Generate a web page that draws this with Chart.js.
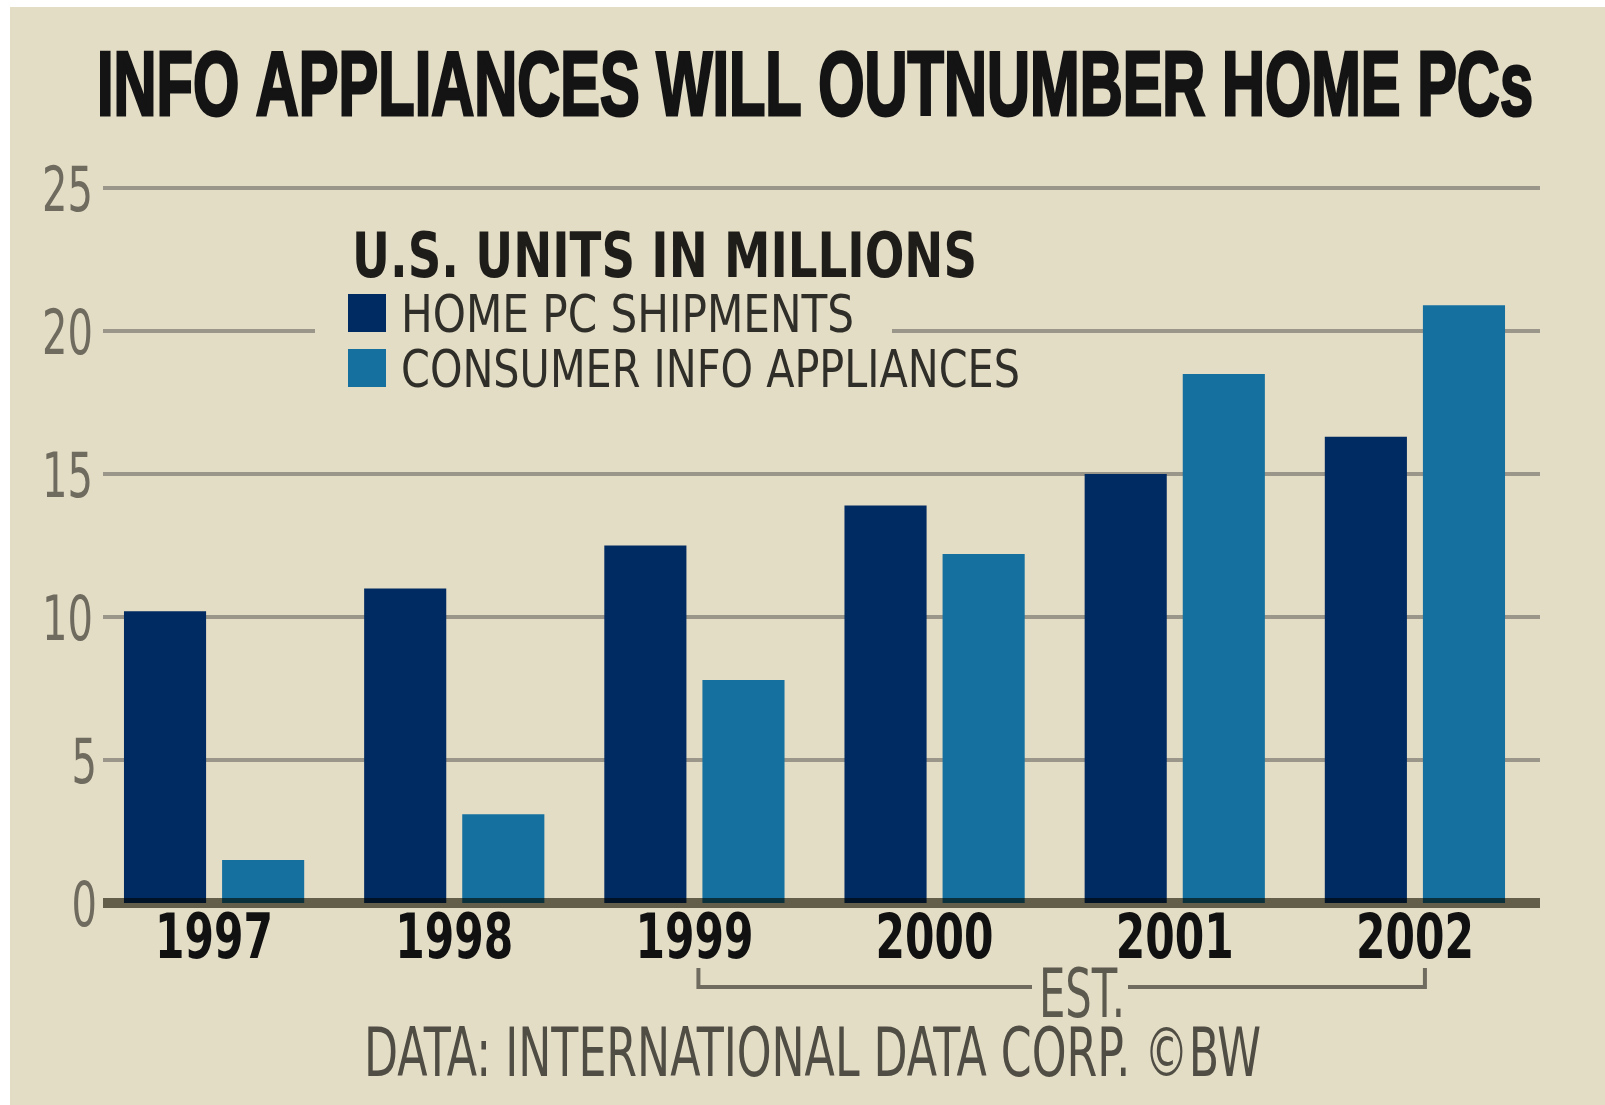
<!DOCTYPE html>
<html>
<head>
<meta charset="utf-8">
<script src="https://cdn.jsdelivr.net/npm/chart.js@4.4.1/dist/chart.umd.min.js"></script>
<style>
  html, body { margin: 0; padding: 0; background: #fff; }
  canvas { display: block; }
</style>
</head>
<body>
<canvas id="barChart" width="1605" height="1105"></canvas>
<script>
// values (millions of units)
const years = ["1997", "1998", "1999", "2000", "2001", "2002"];
const homePC = [10.2, 11.0, 12.5, 13.9, 15.0, 16.3];
const infoAppliances = [1.5, 3.1, 7.8, 12.2, 18.5, 20.9];
const yTicks = [0, 5, 10, 15, 20, 25];

const paper = "#e4ddc6";
const navy = "#002a62";
const teal = "#15709f";
const gridGray = "#9b968a";
const axisGray = "#6f6c5f";
const narrow = '"Liberation Sans Narrow", "DejaVu Sans Condensed", sans-serif';

// draw text squeezed to a given width (the original type is very condensed)
function squeeze(ctx, text, x, y, width, font, color, stroke) {
  ctx.save();
  ctx.font = font;
  const w = ctx.measureText(text).width;
  ctx.translate(x, y);
  ctx.scale(width / w, 1);
  ctx.textAlign = "left";
  ctx.textBaseline = "alphabetic";
  ctx.fillStyle = color;
  ctx.fillText(text, 0, 0);
  if (stroke) {
    ctx.lineWidth = stroke;
    ctx.strokeStyle = color;
    ctx.strokeText(text, 0, 0);
  }
  ctx.restore();
}

const paperPlugin = {
  id: "paper",
  beforeDraw(chart) {
    const ctx = chart.ctx;
    ctx.save();
    ctx.fillStyle = "#fff";
    ctx.fillRect(0, 0, chart.width, chart.height);
    ctx.fillStyle = paper;
    ctx.fillRect(10, 7, chart.width - 10, chart.height - 7);
    ctx.restore();
    squeeze(ctx, "INFO APPLIANCES WILL OUTNUMBER HOME PCs", 97, 115, 1436,
      'bold 91px "Liberation Sans", sans-serif', "#141414", 3);
  }
};

const decorPlugin = {
  id: "decor",
  beforeDatasetsDraw(chart) {
    const ctx = chart.ctx;
    const y = chart.scales.y;
    ctx.save();
    ctx.fillStyle = gridGray;
    yTicks.filter(v => v > 0).forEach(v => {
      const py = y.getPixelForValue(v);
      ctx.fillRect(103, py - 2, 1437, 4);
    });
    // legend sits on a patch of paper that hides the 20 gridline
    ctx.fillStyle = paper;
    ctx.fillRect(315, 215, 577, 190);
    ctx.fillStyle = navy;
    ctx.fillRect(348, 294, 38, 38);
    ctx.fillStyle = teal;
    ctx.fillRect(348, 349, 38, 38);
    ctx.restore();
    squeeze(ctx, "U.S. UNITS IN MILLIONS", 352, 277, 625, "bold 63px " + narrow, "#1e1d19");
    squeeze(ctx, chart.data.datasets[0].label, 401, 332, 453, "52px " + narrow, "#2f2e28");
    squeeze(ctx, chart.data.datasets[1].label, 401, 387, 619, "52px " + narrow, "#2f2e28");

    // y tick labels, condensed, right-aligned against the plot
    y.ticks.forEach(t => {
      if (!yTicks.includes(t.value)) return;
      const s = String(t.value);
      const w = 25.5 * s.length;
      const py = y.getPixelForValue(t.value);
      squeeze(ctx, s, 93 - w + (s.length === 1 ? 4 : 0), py + 23, w, "63px " + narrow, axisGray);
    });
  },
  afterDatasetsDraw(chart) {
    const ctx = chart.ctx;
    const x = chart.scales.x;
    const y0 = chart.scales.y.getPixelForValue(0);
    ctx.save();
    ctx.globalCompositeOperation = "multiply";
    ctx.fillStyle = axisGray;
    ctx.fillRect(103, y0 - 5, 1437, 10);
    ctx.restore();

    // category labels
    x.ticks.forEach((t, i) => {
      const px = x.getPixelForTick(i);
      squeeze(ctx, years[t.value], px - 59, 958, 118, "bold 62px " + narrow, "#111");
    });

    // EST. bracket under 1999-2002
    const left = x.getPixelForValue(2) + 4;
    const right = x.getPixelForValue(5) + 10;
    ctx.save();
    ctx.strokeStyle = axisGray;
    ctx.lineWidth = 4;
    ctx.beginPath();
    ctx.moveTo(left, 968);
    ctx.lineTo(left, 987);
    ctx.lineTo(1032, 987);
    ctx.moveTo(1128, 987);
    ctx.lineTo(right, 987);
    ctx.lineTo(right, 968);
    ctx.stroke();
    ctx.restore();
    squeeze(ctx, "EST.", 1039, 1017, 86, "68px " + narrow, "#5c5a4f");
    squeeze(ctx, "DATA: INTERNATIONAL DATA CORP. \u00A9BW", 364, 1076, 897, "67px " + narrow, "#4f4d44");
  }
};

const barCtx = document.getElementById("barChart").getContext("2d");
new Chart(barCtx, {
  type: "bar",
  data: {
    labels: years,
    datasets: [
      { label: "HOME PC SHIPMENTS", data: homePC, backgroundColor: navy },
      { label: "CONSUMER INFO APPLIANCES", data: infoAppliances, backgroundColor: teal }
    ]
  },
  options: {
    responsive: false,
    animation: false,
    events: [],
    categoryPercentage: 0.817,
    barPercentage: 0.837,
    layout: { padding: { top: 188, right: 70, bottom: 0, left: 0 } },
    plugins: {
      legend: { display: false },
      title: { display: false },
      tooltip: { enabled: false }
    },
    scales: {
      x: {
        grid: { display: false, drawTicks: false, tickLength: 0 },
        border: { display: false },
        ticks: { display: false },
        afterFit(s) { s.height = 202; }
      },
      y: {
        min: 0,
        max: 25,
        grid: { display: false, drawTicks: false, tickLength: 0 },
        border: { display: false },
        ticks: { display: false, stepSize: 5 },
        afterFit(s) { s.width = 94; }
      }
    }
  },
  plugins: [paperPlugin, decorPlugin]
});
</script>
</body>
</html>
